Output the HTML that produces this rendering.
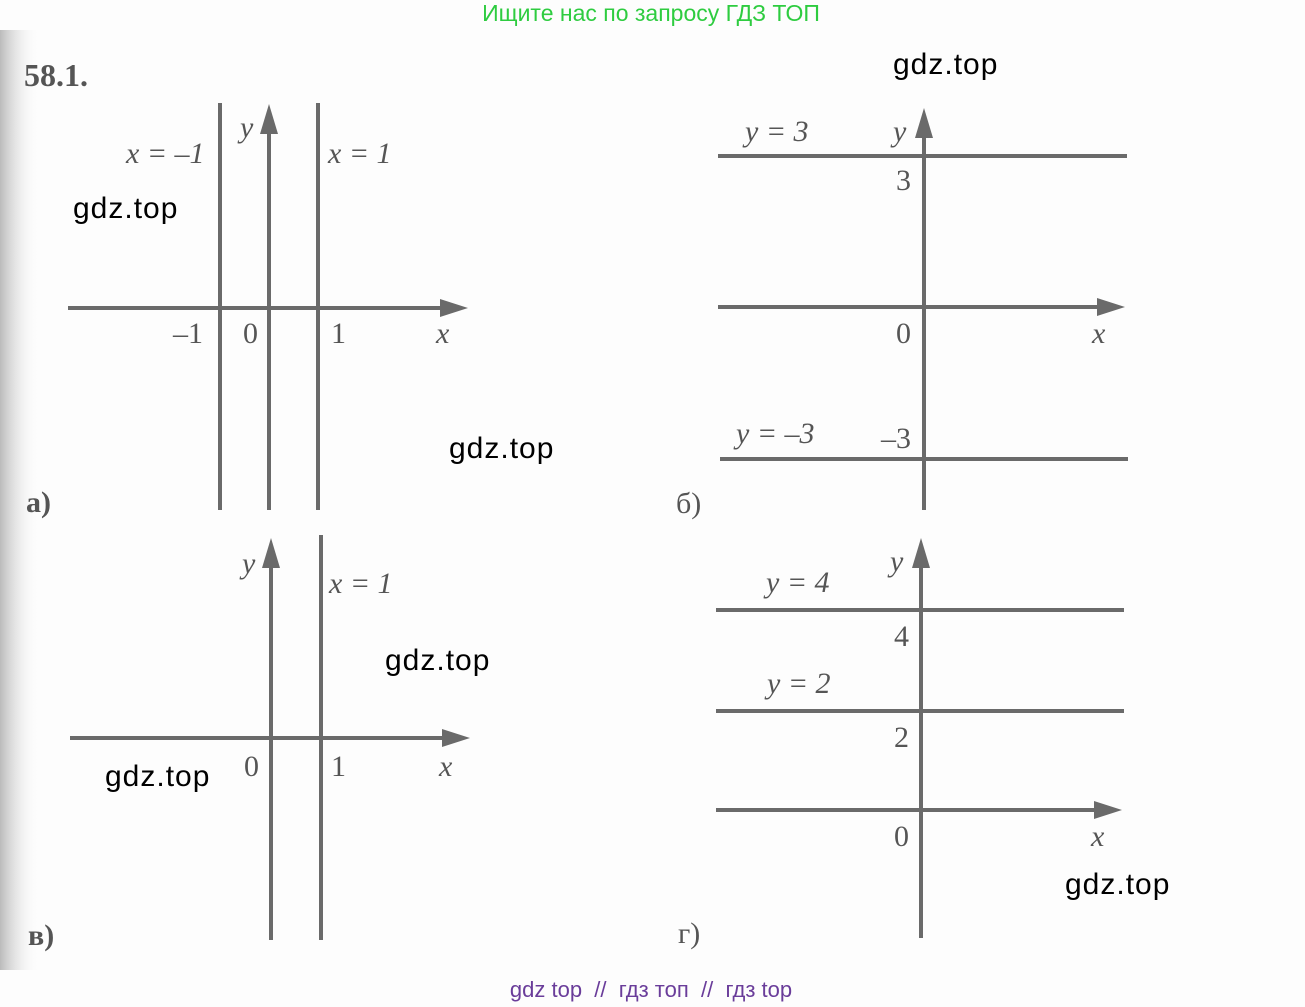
<!DOCTYPE html>
<html><head><meta charset="utf-8"><style>
html,body{margin:0;padding:0;background:#fff;}
svg{display:block}
.s{font-family:"Liberation Serif",serif;fill:#555;font-size:30px;}
.i{font-style:italic;}
.w{font-family:"Liberation Sans",sans-serif;fill:#000;font-size:30px;letter-spacing:1px;}
</style></head><body>
<svg width="1305" height="1007" viewBox="0 0 1305 1007" xmlns="http://www.w3.org/2000/svg">
<defs>
<linearGradient id="g" x1="0" x2="1"><stop offset="0" stop-color="#bbb"/><stop offset="1" stop-color="#fff" stop-opacity="0"/></linearGradient>
</defs>
<rect width="1305" height="1007" fill="#fdfdfd"/>
<rect x="0" y="30" width="40" height="940" fill="url(#g)"/>
<g stroke="#6a6a6a" stroke-width="4" fill="none">
<line x1="68" y1="308" x2="450" y2="308"/>
<line x1="220" y1="103" x2="220" y2="510"/>
<line x1="269" y1="125" x2="269" y2="510"/>
<line x1="318" y1="103" x2="318" y2="510"/>
<line x1="718" y1="156" x2="1127" y2="156"/>
<line x1="718" y1="307" x2="1105" y2="307"/>
<line x1="720" y1="459" x2="1128" y2="459"/>
<line x1="924" y1="130" x2="924" y2="510"/>
<line x1="70" y1="738" x2="452" y2="738"/>
<line x1="271" y1="560" x2="271" y2="940"/>
<line x1="321" y1="535" x2="321" y2="940"/>
<line x1="716" y1="610" x2="1124" y2="610"/>
<line x1="716" y1="711" x2="1124" y2="711"/>
<line x1="716" y1="810" x2="1102" y2="810"/>
<line x1="921" y1="560" x2="921" y2="938"/>
</g>
<g fill="#6a6a6a">
<polygon points="468,308 440,299 440,317"/>
<polygon points="269,104 260,134 278,134"/>
<polygon points="1125,307 1097,298 1097,316"/>
<polygon points="924,108 915,138 933,138"/>
<polygon points="470,738 442,729 442,747"/>
<polygon points="271,538 262,568 280,568"/>
<polygon points="1122,810 1094,801 1094,819"/>
<polygon points="921,538 912,568 930,568"/>
</g>
<text class="s" x="24" y="86" style="font-weight:bold;font-size:32px">58.1.</text>
<text class="s i" x="126" y="163">x = –1</text>
<text class="s i" x="240" y="137">y</text>
<text class="s i" x="328" y="163">x = 1</text>
<text class="s" x="173" y="343">–1</text>
<text class="s" x="243" y="343">0</text>
<text class="s" x="331" y="343">1</text>
<text class="s i" x="436" y="343">x</text>
<text class="s" x="26" y="512" style="font-weight:bold">а)</text>
<text class="s i" x="745" y="141">y = 3</text>
<text class="s i" x="893" y="141">y</text>
<text class="s" x="896" y="190">3</text>
<text class="s" x="896" y="343">0</text>
<text class="s i" x="1092" y="343">x</text>
<text class="s i" x="736" y="443">y = –3</text>
<text class="s" x="881" y="448">–3</text>
<text class="s" x="676" y="513">б)</text>
<text class="s i" x="242" y="573">y</text>
<text class="s i" x="329" y="593">x = 1</text>
<text class="s" x="244" y="776">0</text>
<text class="s" x="331" y="776">1</text>
<text class="s i" x="439" y="776">x</text>
<text class="s" x="28" y="945" style="font-weight:bold">в)</text>
<text class="s i" x="766" y="592">y = 4</text>
<text class="s i" x="890" y="571">y</text>
<text class="s" x="894" y="646">4</text>
<text class="s i" x="767" y="693">y = 2</text>
<text class="s" x="894" y="747">2</text>
<text class="s" x="894" y="846">0</text>
<text class="s i" x="1091" y="846">x</text>
<text class="s" x="678" y="943">г)</text>
<text class="w" x="893" y="74">gdz.top</text>
<text class="w" x="73" y="218">gdz.top</text>
<text class="w" x="449" y="458">gdz.top</text>
<text class="w" x="385" y="670">gdz.top</text>
<text class="w" x="105" y="786">gdz.top</text>
<text class="w" x="1065" y="894">gdz.top</text>
<text x="651" y="21" text-anchor="middle" style="font-family:'Liberation Sans',sans-serif;font-size:23px;fill:#2ecc40">Ищите нас по запросу ГДЗ ТОП</text>
<text x="651" y="997" text-anchor="middle" xml:space="preserve" style="font-family:'Liberation Sans',sans-serif;font-size:22px;fill:#6a3d9a;white-space:pre">gdz top  //  гдз топ  //  гдз top</text>
</svg>
</body></html>
